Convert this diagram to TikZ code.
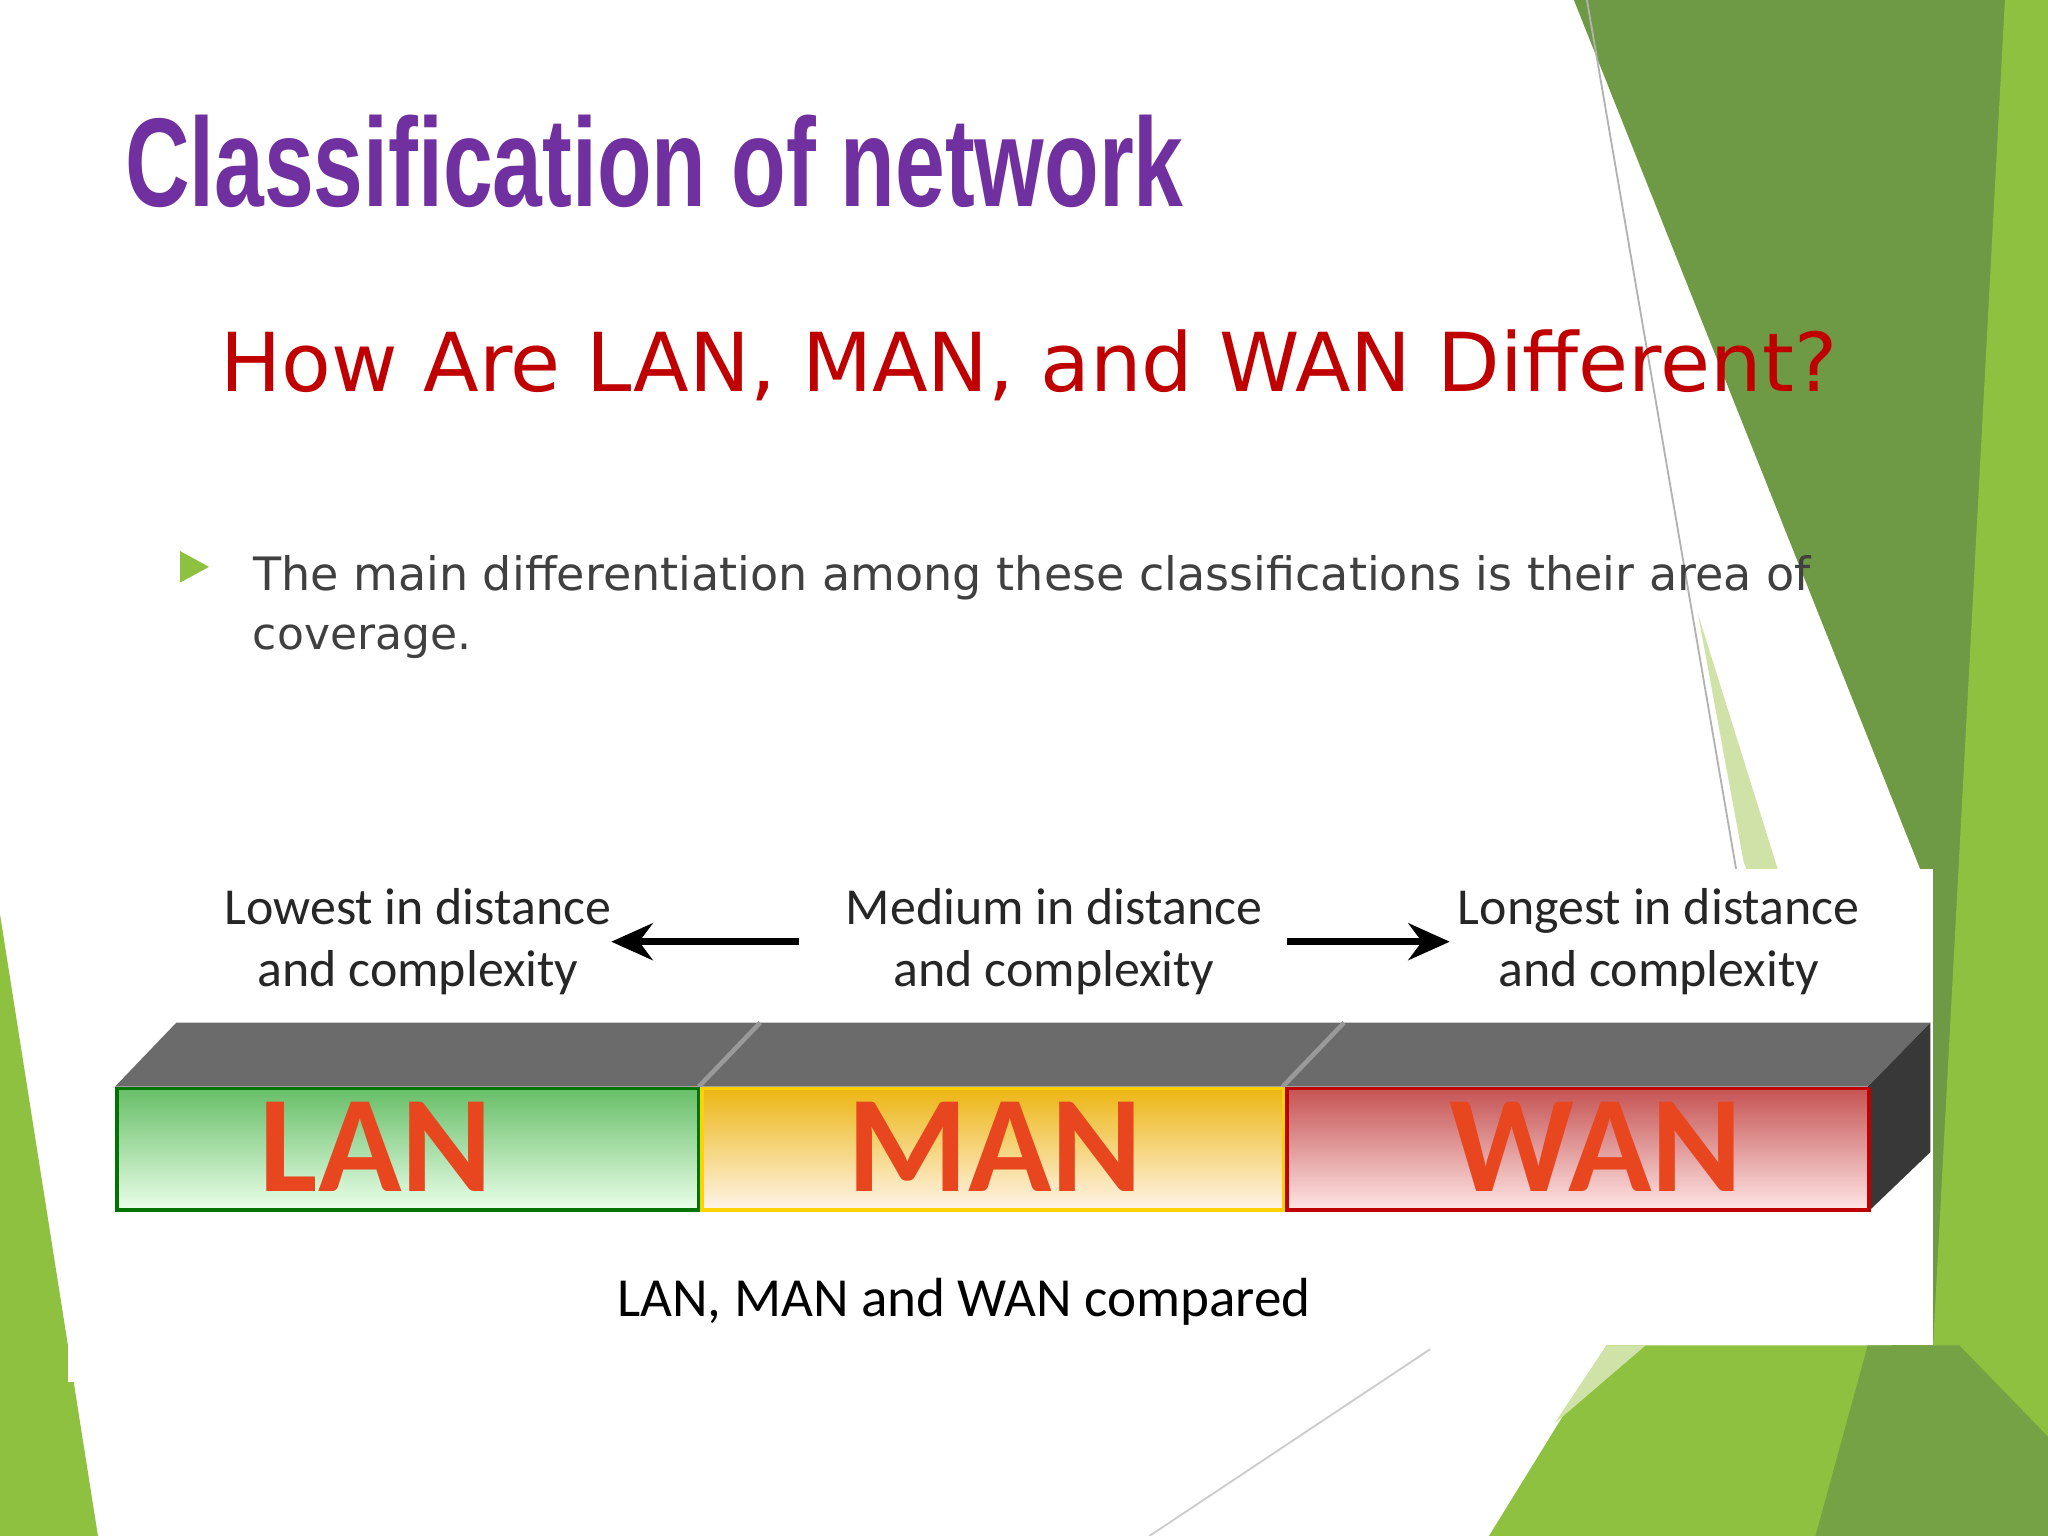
\documentclass[tikz,border=0pt]{standalone}
\usepackage{fontspec}
\setmainfont{Carlito}
\newfontfamily\slidefont{DejaVu Sans}
\newfontfamily\titlefont{Liberation Sans}
\usetikzlibrary{arrows.meta, positioning}
\definecolor{deepgreen}{HTML}{6E9A45}
\definecolor{leafgreen}{HTML}{8DC13F}
\definecolor{palegreen}{HTML}{CFE3A8}
\definecolor{titlepurple}{HTML}{7030A0}
\definecolor{headred}{HTML}{C00000}
\definecolor{bodygrey}{HTML}{404040}
\definecolor{barlabel}{HTML}{E8461E}
\tikzset{
  barface/.style={draw, line width=0.8pt, minimum width=4.45cm, minimum height=0.93cm, inner sep=0pt},
  barname/.style={font=\bfseries\fontsize{30}{30}\selectfont, text=barlabel},
  rangelbl/.style={align=center, font=\fontsize{11.3}{13.5}\selectfont, text=black!85},
}
\begin{document}
\begin{tikzpicture}[x=0.01cm, y=-0.01cm]
\useasboundingbox (0,0) rectangle (1568,1176);
\fill[white] (0,0) rectangle (1568,1176);
% green decoration
\fill[deepgreen] (1205,0) -- (1568,0) -- (1568,1176) -- (1440,1176) -- (1470,665) -- cycle;
\fill[leafgreen] (1535,0) -- (1568,0) -- (1568,1176) -- (1380,1176) -- (1480,1030) -- cycle;
\fill[palegreen] (1300,470) -- (1475,1030) -- (1335,660) -- cycle;
\fill[leafgreen] (1140,1176) -- (1230,1030) -- (1568,1030) -- (1568,1176) -- cycle;
\fill[deepgreen!80!leafgreen] (1390,1176) -- (1430,1030) -- (1500,1030) -- (1568,1100) -- (1568,1176) -- cycle;
\fill[palegreen] (1190,1090) -- (1230,1030) -- (1260,1030) -- cycle;
\fill[leafgreen] (0,700) -- (75,1176) -- (0,1176) -- cycle;
\draw[gray!60, thin] (1215,0) -- (1330,670);
\draw[gray!40, thin] (880,1176) -- (1095,1033);
% white panel
\fill[white] (52,665) rectangle (1480,1030);
\fill[white] (52,1030) rectangle (60,1058);
% headings
\node[anchor=base west, inner sep=0pt, text=titlepurple] (title) at (95,158)
  {\resizebox{8.1cm}{0.7cm}{\titlefont\bfseries Classification of network}};
\node[anchor=base west, inner sep=0pt, text=headred] (subtitle) at (168,300)
  {\resizebox{12.37cm}{!}{\slidefont How Are LAN, MAN, and WAN Different?}};
\fill[leafgreen] (138,422) -- (160,434) -- (138,446) -- cycle;
\node[anchor=base west, inner sep=0pt, text=bodygrey] (bullet) at (193,452)
  {\resizebox{11.92cm}{!}{\slidefont The main differentiation among these classifications is their area of}};
\node[anchor=base west, inner sep=0pt, text=bodygrey] (bullet2) at (193,497)
  {\resizebox{1.67cm}{!}{\slidefont coverage.}};
% range labels
\node[rangelbl] (lowlbl) at (320,721) {Lowest in distance\\and complexity};
\node[rangelbl] (medlbl) at (807,721) {Medium in distance\\and complexity};
\node[rangelbl] (longlbl) at (1270,721) {Longest in distance\\and complexity};
\coordinate (lowtip) at (468,721);
\coordinate (lowtail) at (612,721);
\coordinate (longtail) at (985,721);
\coordinate (longtip) at (1110,721);
\draw[-{Stealth[length=9pt,width=8pt]}, line width=1.6pt] (lowtail) -- (lowtip);
\draw[-{Stealth[length=9pt,width=8pt]}, line width=1.6pt] (longtail) -- (longtip);
% bar
\fill[black!58] (88,832) -- (135,783) -- (1478,783) -- (1430,832) -- cycle;
\fill[black!78] (1430,832) -- (1478,783) -- (1478,882) -- (1430,928) -- cycle;
\draw[black!40, line width=1pt] (535,832) -- (582,783);
\draw[black!40, line width=1pt] (982,832) -- (1029,783);
\node[barface, anchor=north west, draw=green!45!black, top color=green!40!gray!85, bottom color=green!8!white] (lanbox) at (88,832) {};
\node[barface, right=0pt of lanbox, draw=yellow!70!orange, top color=orange!50!yellow!85!gray, bottom color=orange!8] (manbox) {};
\node[barface, right=0pt of manbox, draw=red!75!black, top color=red!50!gray!90, bottom color=red!10] (wanbox) {};
\node[barname] (lanname) at (288,878) {LAN};
\node[barname] (manname) at (762,878) {MAN};
\node[barname] (wanname) at (1222,878) {WAN};
\node[anchor=base, font=\fontsize{12}{14}\selectfont] (caption) at (738,1008) {LAN, MAN and WAN compared};
\end{tikzpicture}
\end{document}
